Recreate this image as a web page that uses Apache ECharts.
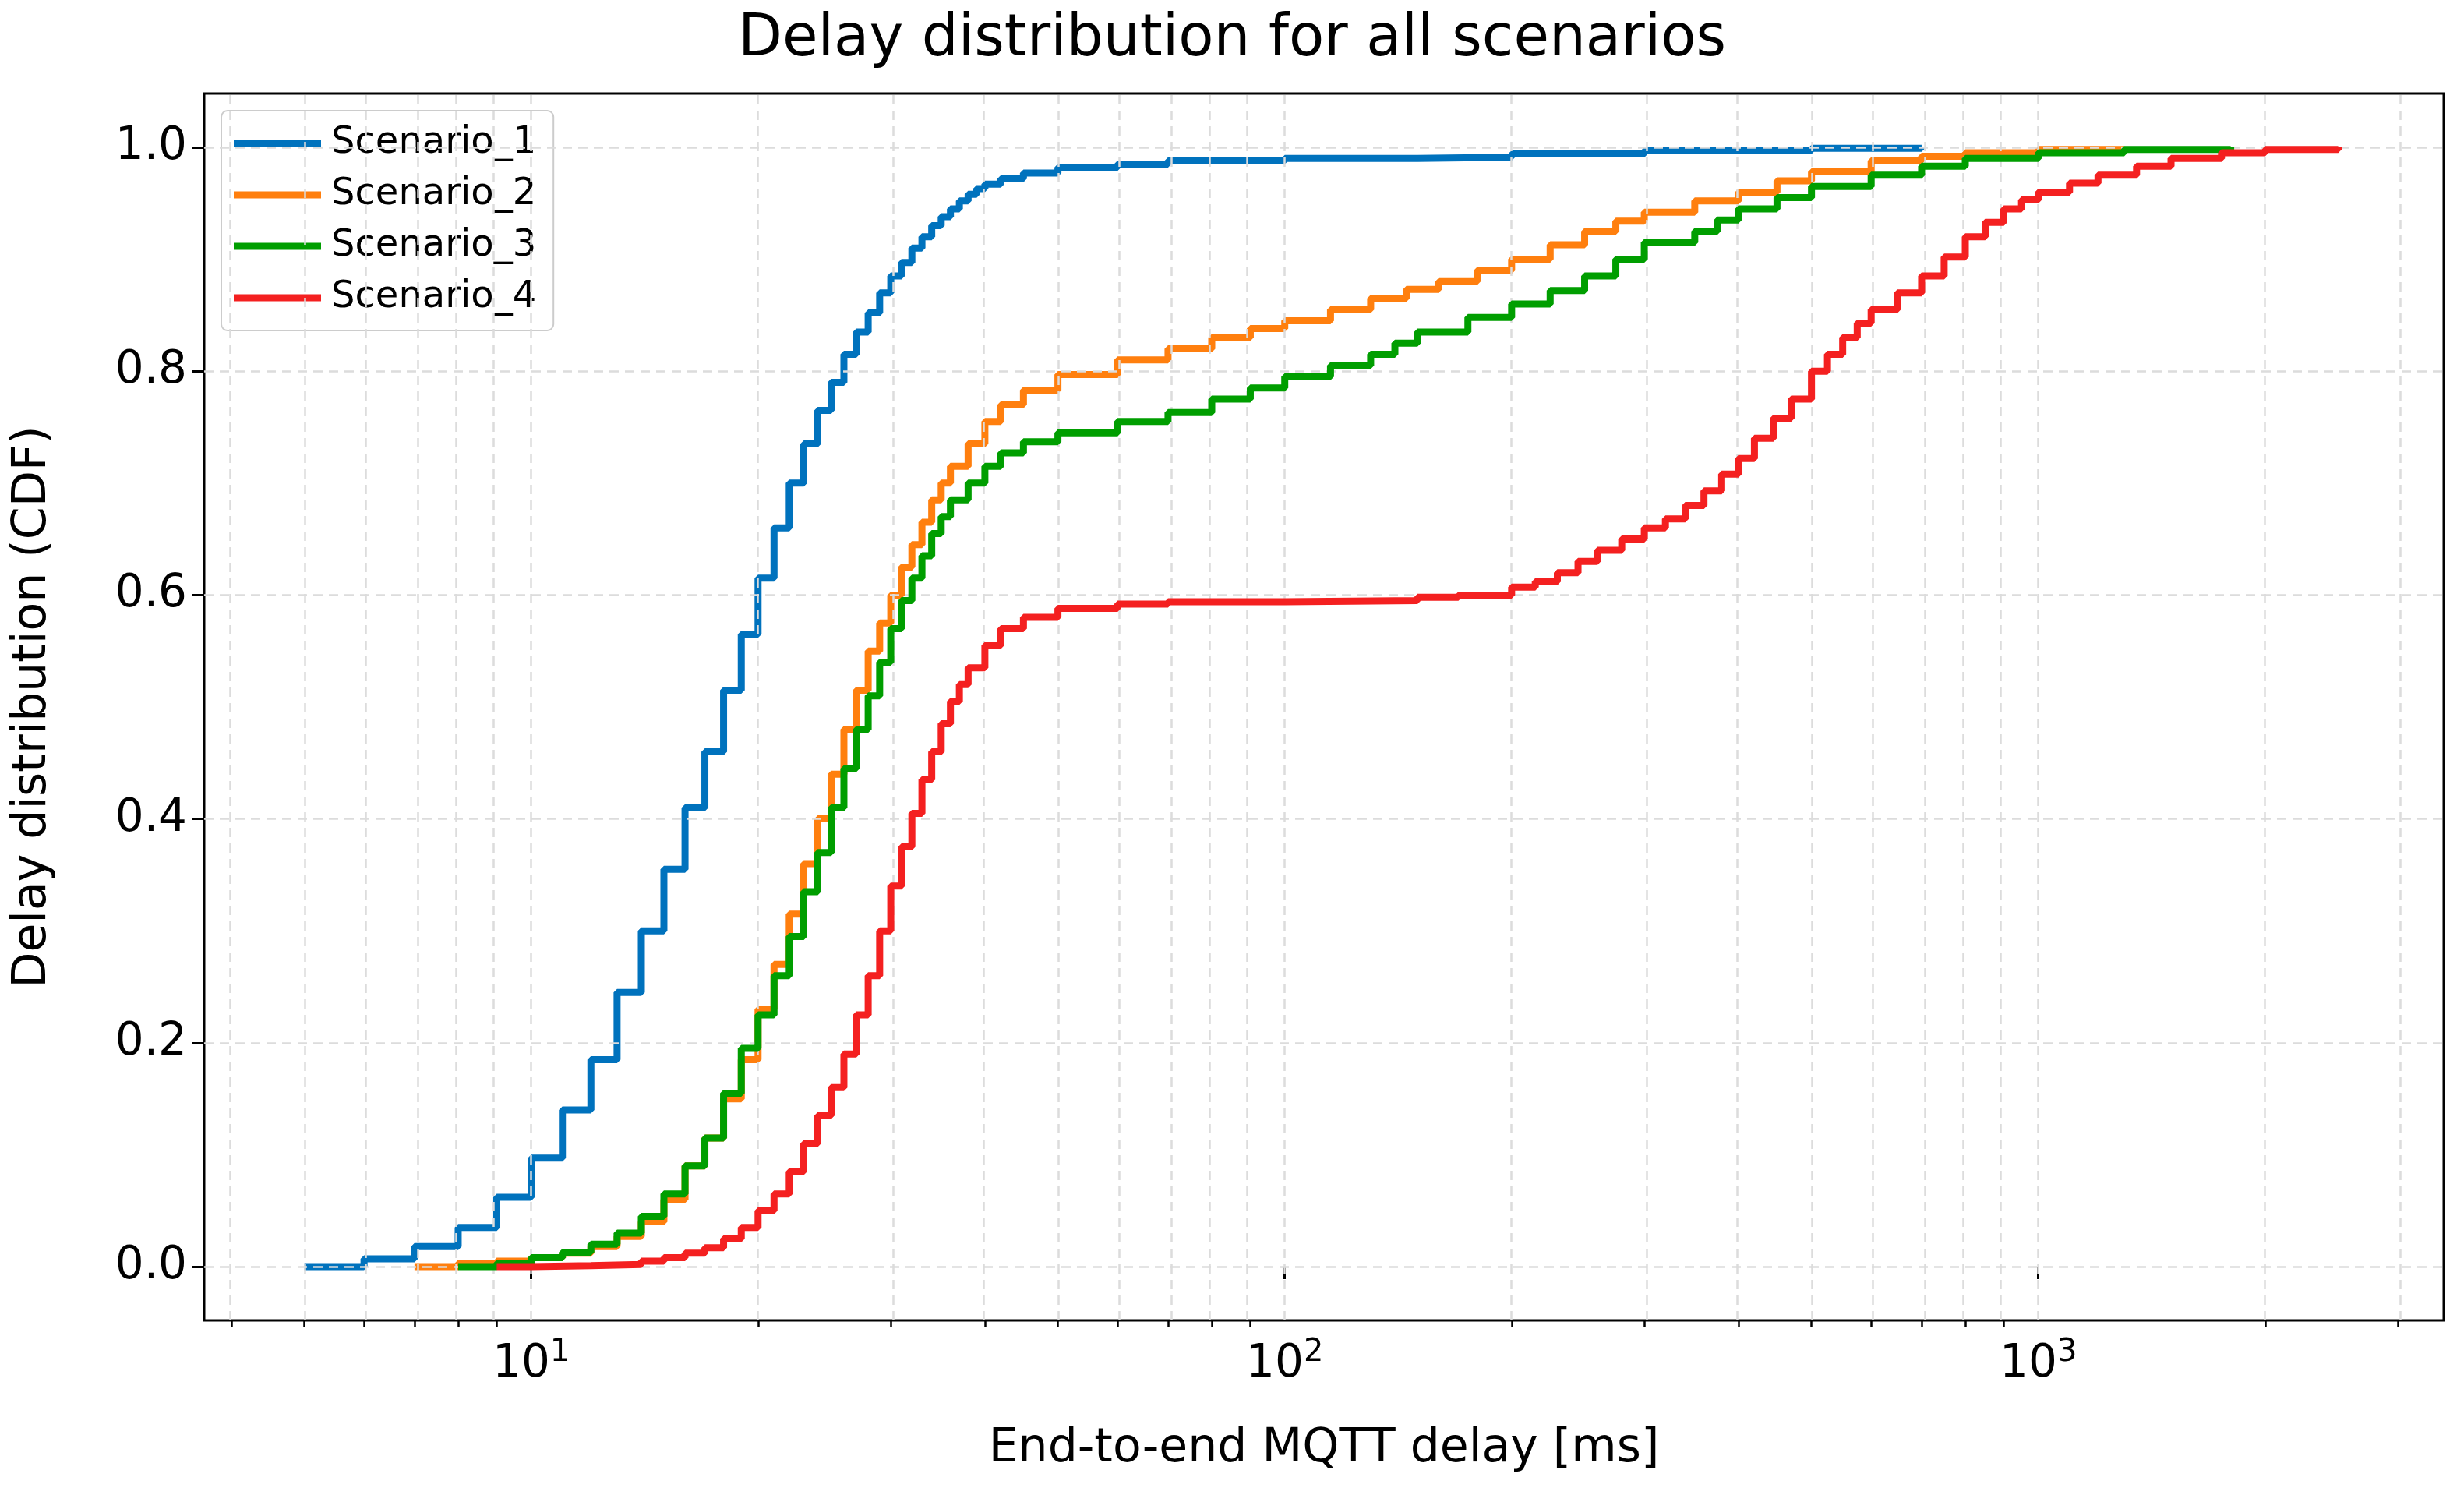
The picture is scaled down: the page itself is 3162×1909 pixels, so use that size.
<!DOCTYPE html>
<html>
<head>
<meta charset="utf-8">
<script src="https://cdn.jsdelivr.net/npm/echarts@6/dist/echarts.min.js"></script>
<style>html,body{margin:0;padding:0;background:#fff}#chart{width:3162px;height:1909px}</style>
</head>
<body>
<div id="chart"></div>
<script>
// delay [ms] -> CDF
const scenarios = {
  Scenario_1: [[5,0],[6,0.007],[7,0.018],[8,0.035],[9,0.062],[10,0.097],[11,0.14],[12,0.185],[13,0.245],[14,0.30],[15,0.355],[16,0.41],[17,0.46],[18,0.515],[19,0.565],[20,0.615],[21,0.66],[22,0.70],[23,0.735],[24,0.765],[25,0.79],[26,0.815],[27,0.835],[28,0.852],[29,0.87],[30,0.885],[31,0.897],[32,0.91],[33,0.92],[34,0.93],[35,0.938],[36,0.945],[37,0.952],[38,0.958],[39,0.963],[40,0.967],[42,0.972],[45,0.977],[50,0.982],[60,0.985],[70,0.988],[100,0.99],[150,0.991],[200,0.994],[300,0.997],[500,0.999],[700,1.0]],
  Scenario_2: [[7,0],[8,0.003],[9,0.005],[10,0.008],[11,0.012],[12,0.018],[13,0.027],[14,0.04],[15,0.06],[16,0.09],[17,0.115],[18,0.15],[19,0.185],[20,0.23],[21,0.27],[22,0.315],[23,0.36],[24,0.40],[25,0.44],[26,0.48],[27,0.515],[28,0.55],[29,0.575],[30,0.6],[31,0.625],[32,0.645],[33,0.665],[34,0.685],[35,0.70],[36,0.715],[38,0.735],[40,0.755],[42,0.77],[45,0.783],[50,0.797],[60,0.81],[70,0.82],[80,0.83],[90,0.838],[100,0.845],[115,0.855],[130,0.865],[145,0.873],[160,0.88],[180,0.89],[200,0.9],[225,0.913],[250,0.925],[275,0.934],[300,0.942],[350,0.952],[400,0.96],[450,0.97],[500,0.978],[600,0.988],[700,0.992],[800,0.995],[1000,0.998],[1300,1.0]],
  Scenario_3: [[8,0],[9,0.003],[10,0.008],[11,0.013],[12,0.02],[13,0.03],[14,0.045],[15,0.065],[16,0.09],[17,0.115],[18,0.155],[19,0.195],[20,0.225],[21,0.26],[22,0.295],[23,0.335],[24,0.37],[25,0.41],[26,0.445],[27,0.48],[28,0.51],[29,0.54],[30,0.57],[31,0.595],[32,0.615],[33,0.635],[34,0.655],[35,0.67],[36,0.685],[38,0.70],[40,0.715],[42,0.727],[45,0.737],[50,0.745],[60,0.755],[70,0.763],[80,0.775],[90,0.785],[100,0.795],[115,0.805],[130,0.815],[140,0.825],[150,0.835],[175,0.848],[200,0.86],[225,0.872],[250,0.885],[275,0.9],[300,0.915],[350,0.925],[375,0.935],[400,0.945],[450,0.955],[500,0.965],[600,0.975],[700,0.983],[800,0.99],[1000,0.995],[1300,0.998],[1800,1.0]],
  Scenario_4: [[9,0],[10,0.001],[12,0.002],[14,0.005],[15,0.008],[16,0.012],[17,0.017],[18,0.025],[19,0.035],[20,0.05],[21,0.065],[22,0.085],[23,0.11],[24,0.135],[25,0.16],[26,0.19],[27,0.225],[28,0.26],[29,0.3],[30,0.34],[31,0.375],[32,0.405],[33,0.435],[34,0.46],[35,0.485],[36,0.505],[37,0.52],[38,0.535],[40,0.555],[42,0.57],[45,0.58],[50,0.588],[60,0.592],[70,0.594],[100,0.595],[150,0.598],[170,0.6],[200,0.607],[215,0.612],[230,0.62],[245,0.63],[260,0.64],[280,0.65],[300,0.66],[320,0.668],[340,0.68],[360,0.693],[380,0.708],[400,0.722],[420,0.74],[445,0.758],[470,0.775],[500,0.8],[525,0.815],[550,0.83],[575,0.843],[600,0.855],[650,0.87],[700,0.885],[750,0.902],[800,0.92],[850,0.933],[900,0.945],[950,0.953],[1000,0.96],[1100,0.968],[1200,0.975],[1350,0.983],[1500,0.99],[1750,0.995],[2000,0.998],[2500,1.0]]
};
const colors = ['#0072bd', '#ff7f0e', '#009e00', '#f42020'];

const font = 'DejaVu Sans';
const minorX = [];
[1, 10, 100, 1000].forEach(d => { for (let k = 2; k < 10; k++) { const v = k * d; if (v >= 4 && v <= 3000) minorX.push(Math.log10(v)); } });
const majorX = [1, 2, 3];
const yTicks = [0, 0.2, 0.4, 0.6, 0.8, 1.0];
const gridStyle = { color: '#dcdcdc', width: 2.5, type: [12, 8] };

const xBase = {
  type: 'value', min: 0.566, max: 3.538, gridIndex: 0, position: 'bottom',
  splitLine: { show: false }, axisLine: { show: false }
};

const series = [{
  type: 'line', data: [], silent: true, z: 0,
  markLine: {
    symbol: 'none', silent: true, label: { show: false }, lineStyle: gridStyle,
    emphasis: { disabled: true },
    data: majorX.concat(minorX).map(v => ({ xAxis: v })).concat(yTicks.map(v => ({ yAxis: v })))
  }
}];
Object.keys(scenarios).forEach((name, i) => series.push({
  name, type: 'line', step: 'end', symbol: 'none', z: 3 + i,
  lineStyle: { width: 9, color: colors[i] }, itemStyle: { color: colors[i] },
  data: scenarios[name].map(p => [Math.log10(p[0]), p[1]])
}));

const option = {
  animation: false,
  textStyle: { fontFamily: font, color: '#000' },
  title: { text: 'Delay distribution for all scenarios', left: 'center', top: 10,
    textStyle: { fontFamily: font, fontSize: 74, fontWeight: 'normal', color: '#000' } },
  grid: { left: 262, right: 26, top: 120, bottom: 215, show: true, borderColor: '#000', borderWidth: 3 },
  legend: {
    left: 284, top: 142, orient: 'vertical', itemWidth: 112, itemHeight: 9, itemGap: 18,
    icon: 'rect', padding: [18, 22, 18, 16], backgroundColor: '#fff', borderColor: '#cccccc',
    borderWidth: 2, borderRadius: 8,
    textStyle: { fontFamily: font, fontSize: 48, color: '#000', padding: [0, 0, 0, 8] },
    data: Object.keys(scenarios)
  },
  xAxis: [
    Object.assign({}, xBase, {
      name: 'End-to-end MQTT delay [ms]', nameLocation: 'middle', nameGap: 135,
      nameTextStyle: { fontFamily: font, fontSize: 60, color: '#000' },
      axisTick: { show: true, length: 16, lineStyle: { width: 3, color: '#000' }, customValues: majorX },
      axisLabel: { show: true, margin: 22, customValues: majorX,
        formatter: v => '{b|10}{s|' + Math.round(v) + '}',
        rich: { b: { fontFamily: font, fontSize: 58, color: '#000' },
                s: { fontFamily: font, fontSize: 40, color: '#000', verticalAlign: 'top', padding: [0, 0, 30, 0] } } }
    }),
    Object.assign({}, xBase, {
      axisTick: { show: true, length: 9, lineStyle: { width: 2.5, color: '#000' }, customValues: minorX },
      axisLabel: { show: false }
    })
  ],
  yAxis: {
    type: 'value', min: -0.048, max: 1.048,
    name: 'Delay distribution (CDF)', nameLocation: 'middle', nameGap: 190,
    nameTextStyle: { fontFamily: font, fontSize: 60, color: '#000' },
    splitLine: { show: false }, axisLine: { show: false },
    axisTick: { show: true, length: 16, lineStyle: { width: 3, color: '#000' }, customValues: yTicks },
    axisLabel: { customValues: yTicks, margin: 22, fontSize: 58, color: '#000', fontFamily: font,
      formatter: v => v.toFixed(1) }
  },
  series
};
echarts.init(document.getElementById('chart')).setOption(option);
</script>
</body>
</html>
